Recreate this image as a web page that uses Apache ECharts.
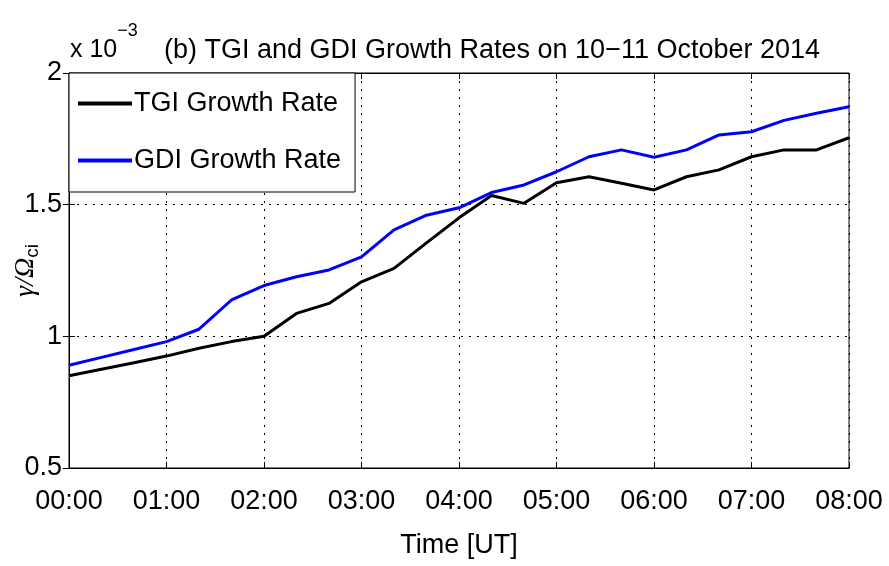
<!DOCTYPE html>
<html>
<head>
<meta charset="utf-8">
<script src="https://cdn.jsdelivr.net/npm/echarts@6/dist/echarts.min.js"></script>
<style>html,body{margin:0;padding:0;background:#fff}#c{width:889px;height:566px}</style>
</head>
<body>
<div id="c"></div>
<script>
// Time in minutes after 00:00 UT (10-11 October 2014)
const timeMinutes = [0,20,40,60,80,100,120,140,160,180,200,220,240,260,280,300,320,340,360,380,400,420,440,460,480];
// Growth rates (x 10^-3)
const tgiRate = [0.85,0.875,0.90,0.925,0.955,0.98,1.00,1.087,1.125,1.207,1.258,1.355,1.45,1.535,1.505,1.583,1.606,1.581,1.556,1.606,1.632,1.682,1.708,1.708,1.754];
const gdiRate = [0.89,0.92,0.95,0.98,1.027,1.138,1.193,1.226,1.252,1.302,1.404,1.46,1.488,1.546,1.575,1.625,1.682,1.708,1.68,1.708,1.765,1.777,1.82,1.847,1.872];
const xTickLabels = ['00:00','01:00','02:00','03:00','04:00','05:00','06:00','07:00','08:00'];
const yTicks = [0.5,1,1.5,2];
const seriesNames = ['TGI Growth Rate','GDI Growth Rate'];

const FONT = '"Liberation Sans Narrow","Liberation Sans",Arial,sans-serif';
const pair = (xs, ys) => xs.map((x,i)=>[x, ys[i]]);
const fmtY = v => { const s = yTicks.find(t => Math.abs(t - v) < 1e-9); return s === undefined ? '' : String(s); };

const chart = echarts.init(document.getElementById('c'));
chart.setOption({
  animation: false,
  backgroundColor: '#fff',
  title: {
    text: '(b) TGI and GDI Growth Rates on 10\u221211 October 2014',
    left: 487, top: 32, textAlign: 'center',
    textStyle: {fontFamily: FONT, fontSize: 27, fontWeight: 'normal', color: '#000'}
  },
  grid: {left: 69, right: 40, top: 73, bottom: 98, show: true, borderColor: '#000', borderWidth: 1,
         containLabel: false, outerBoundsMode: 'none'},
  legend: {
    left: 69, top: 73, orient: 'vertical',
    backgroundColor: '#fff', borderColor: '#000', borderWidth: 1,
    padding: [17, 14, 18, 9], itemGap: 30,
    icon: 'rect', itemWidth: 54, itemHeight: 4,
    textStyle: {fontFamily: FONT, fontSize: 27, color: '#000', padding: [0,0,0,-3]},
    data: seriesNames
  },
  xAxis: [{
    type: 'value', min: 0, max: 480, interval: 60,
    axisLine: {show: true, lineStyle: {color: '#000', width: 1}},
    axisTick: {show: true, inside: true, length: 6, lineStyle: {color: '#000'}},
    splitLine: {show: true, lineStyle: {color: '#000', type: [2, 6], width: 1}},
    axisLabel: {fontFamily: FONT, fontSize: 27, color: '#000', margin: 20,
      formatter: v => xTickLabels[Math.round(v/60)] || ''},
    name: 'Time [UT]', nameLocation: 'middle', nameGap: 64, nameMoveOverlap: false,
    nameTextStyle: {fontFamily: FONT, fontSize: 27, color: '#000'}
  },{
    type: 'value', min: 0, max: 480, interval: 60, position: 'top',
    axisLine: {show: true, lineStyle: {color: '#000'}},
    axisTick: {show: true, inside: true, length: 6, lineStyle: {color: '#000'}},
    axisLabel: {show: false}, splitLine: {show: false}
  }],
  yAxis: [{
    type: 'value', min: 0.5, max: 2, interval: 0.5,
    axisLine: {show: true, lineStyle: {color: '#000'}},
    axisTick: {show: true, inside: true, length: 6, lineStyle: {color: '#000'}},
    splitLine: {show: true, lineStyle: {color: '#000', type: [2, 6], width: 1}},
    axisLabel: {fontFamily: FONT, fontSize: 27, color: '#000', margin: 7, formatter: fmtY},
    name: '{g|\u03B3/\u03A9}{s|ci}', nameLocation: 'middle', nameGap: 27, nameRotate: 90, nameMoveOverlap: false,
    nameTextStyle: {rich: {
      g: {fontFamily: '"Liberation Serif","DejaVu Serif",serif', fontSize: 28, fontStyle: 'italic', color: '#000'},
      s: {fontFamily: FONT, fontSize: 19, color: '#000', verticalAlign: 'bottom', padding: [14,0,0,0]}
    }}
  },{
    type: 'value', min: 0.5, max: 2, interval: 0.5, position: 'right',
    axisLine: {show: true, lineStyle: {color: '#000'}},
    axisTick: {show: true, inside: true, length: 6, lineStyle: {color: '#000'}},
    axisLabel: {show: false}, splitLine: {show: false}
  }],
  graphic: [{
    type: 'text', left: 70, top: 22,
    style: {
      text: '{a|x 10}{b|\u22123}',
      rich: {
        a: {fontFamily: FONT, fontSize: 25, fill: '#000', padding: [16,0,0,0]},
        b: {fontFamily: FONT, fontSize: 18, fill: '#000', verticalAlign: 'top'}
      }
    }
  }],
  series: [{
    name: seriesNames[0], type: 'line', data: pair(timeMinutes, tgiRate),
    symbol: 'none', lineStyle: {color: '#000', width: 3}, itemStyle: {color: '#000'}, z: 3
  },{
    name: seriesNames[1], type: 'line', data: pair(timeMinutes, gdiRate),
    symbol: 'none', lineStyle: {color: '#0000ff', width: 3}, itemStyle: {color: '#0000ff'}, z: 3
  }]
});
</script>
</body>
</html>
